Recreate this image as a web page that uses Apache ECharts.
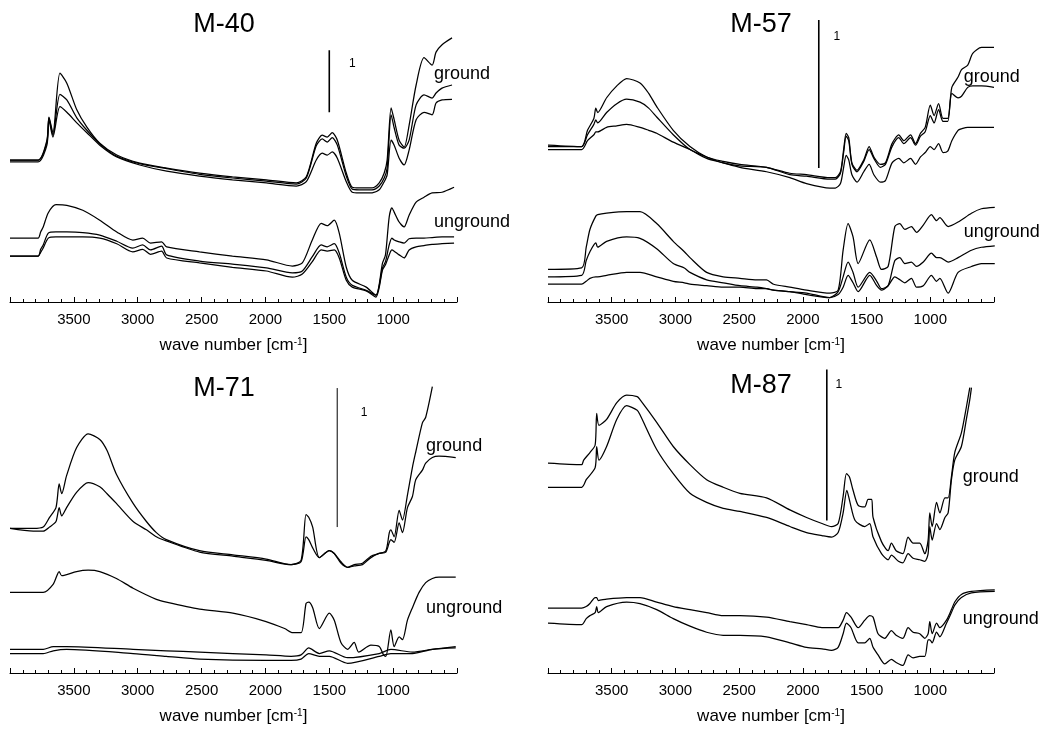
<!DOCTYPE html>
<html>
<head>
<meta charset="utf-8">
<script src="https://cdn.jsdelivr.net/npm/echarts@6/dist/echarts.min.js"></script>
<style>
html,body{margin:0;padding:0;background:#fff;}
#chart{width:1047px;height:729px;}
</style>
</head>
<body>
<div id="chart"></div>
<script>
// ---------- tick labels ----------
const tickValues = [3500, 3000, 2500, 2000, 1500, 1000];
const axisName = 'wave number [cm{sup|-1}]';
const titles = ['M-40', 'M-57', 'M-71', 'M-87'];

// ---------- M-40 ----------
const m40_wnG = [4000,3780,3711,3695,3664,3609,3555,3477,3398,3297,3164,2984,2773,2516,2258,1992,1758,1680,1602,1555,1516,1477,1437,1367,1320,1266,1164,1109,1070,1047,1016,992,953,914,875,820,758,695,664,617,539];
const m40_g1 = [2.29,2.29,2.61,2.98,2.73,3.69,3.53,3.10,2.82,2.56,2.37,2.24,2.16,2.08,2.02,1.97,1.92,2.02,2.56,2.69,2.66,2.73,2.61,2.08,1.85,1.84,1.84,1.92,2.08,2.29,3.13,2.94,2.61,2.50,2.85,3.50,3.94,3.82,4.03,4.15,4.26];
const m40_g2 = [2.29,2.29,2.58,2.97,2.69,3.35,3.26,2.97,2.77,2.55,2.35,2.23,2.15,2.06,2.00,1.95,1.90,2.00,2.52,2.63,2.58,2.65,2.53,2.03,1.82,1.81,1.81,1.87,2.00,2.16,3.02,2.81,2.53,2.48,2.61,3.18,3.34,3.29,3.37,3.45,3.50];
const m40_g3 = [2.26,2.26,2.53,2.94,2.66,3.15,3.06,2.89,2.73,2.53,2.34,2.21,2.11,2.03,1.97,1.92,1.87,1.94,2.29,2.40,2.37,2.42,2.32,1.94,1.77,1.76,1.76,1.81,1.94,2.05,2.61,2.53,2.32,2.21,2.45,2.94,3.06,3.02,3.21,3.26,3.27];
const m40_wnU = [4000,3780,3760,3740,3700,3640,3555,3430,3297,3164,3039,2961,2900,2813,2773,2516,2258,1992,1789,1711,1633,1563,1516,1461,1422,1367,1320,1211,1135,1083,1060,1031,1010,992,953,914,875,820,758,695,617,523];
const m40_u1 = [1.03,1.03,1.13,1.21,1.44,1.57,1.56,1.48,1.32,1.13,1.00,1.03,0.95,0.97,0.89,0.81,0.74,0.68,0.58,0.63,1.00,1.27,1.23,1.32,1.11,0.56,0.35,0.24,0.11,0.63,0.76,1.37,1.52,1.45,1.29,1.21,1.40,1.61,1.69,1.76,1.77,1.85];
const m40_u2 = [0.74,0.74,0.85,0.92,1.11,1.13,1.13,1.12,1.08,0.98,0.87,0.92,0.84,0.90,0.76,0.66,0.61,0.55,0.47,0.50,0.73,0.92,0.89,0.94,0.79,0.40,0.27,0.19,0.11,0.55,0.65,0.92,1.03,1.00,0.97,0.95,1.02,1.03,1.03,1.04,1.05,1.05];
const m40_u3 = [0.74,0.74,0.80,0.87,1.03,1.05,1.05,1.05,1.03,0.94,0.81,0.85,0.77,0.82,0.71,0.63,0.56,0.50,0.40,0.45,0.65,0.84,0.82,0.84,0.71,0.35,0.24,0.18,0.08,0.52,0.60,0.76,0.84,0.82,0.76,0.71,0.84,0.89,0.91,0.93,0.94,0.95];
const m40_bar = [[1500,3.06],[1500,4.06]];
const m40_marks = [[1320,3.85,'1','c'],[680,3.68,'ground','l'],[680,1.29,'unground','l']];

// ---------- M-57 ----------
const m57_wnG = [4000,3736,3690,3640,3625,3610,3540,3460,3383,3278,3210,3147,3017,2886,2755,2625,2494,2285,2102,1971,1788,1745,1705,1680,1660,1640,1615,1575,1522,1480,1443,1391,1352,1300,1247,1208,1155,1116,1077,1040,1000,970,935,900,863,831,782,755,706,667,598,500];
const m57_g1 = [1.06,1.05,1.16,1.24,1.31,1.28,1.38,1.46,1.51,1.48,1.41,1.32,1.16,1.05,0.98,0.95,0.93,0.91,0.87,0.86,0.84,0.84,0.88,1.03,1.14,1.11,0.94,0.89,0.96,1.05,0.98,0.93,0.94,1.07,1.13,1.09,1.13,1.07,1.14,1.18,1.33,1.26,1.34,1.24,1.24,1.45,1.52,1.57,1.60,1.68,1.72,1.72];
const m57_g2 = [1.05,1.05,1.13,1.20,1.23,1.21,1.28,1.34,1.37,1.35,1.31,1.25,1.13,1.03,0.98,0.94,0.92,0.91,0.86,0.85,0.83,0.83,0.87,1.01,1.12,1.09,0.93,0.88,0.95,1.03,0.97,0.91,0.93,1.05,1.11,1.07,1.11,1.06,1.12,1.15,1.26,1.21,1.30,1.22,1.22,1.41,1.38,1.39,1.45,1.46,1.46,1.45];
const m57_g3 = [1.03,1.03,1.09,1.13,1.15,1.15,1.18,1.19,1.20,1.18,1.16,1.14,1.08,1.03,0.97,0.94,0.91,0.88,0.84,0.80,0.77,0.77,0.80,0.91,0.99,0.96,0.86,0.81,0.88,0.93,0.86,0.81,0.82,0.94,0.97,0.94,0.97,0.93,0.98,1.01,1.05,1.03,1.07,1.01,1.02,1.09,1.16,1.17,1.18,1.18,1.18,1.18];
const m57_wnU = [4000,3736,3700,3671,3625,3610,3540,3383,3278,3147,3017,2930,2886,2755,2625,2494,2360,2285,2230,2102,1971,1788,1723,1684,1645,1606,1566,1475,1420,1383,1331,1278,1239,1200,1148,1108,1055,991,951,925,860,782,677,599,494];
const m57_u1 = [0.22,0.23,0.37,0.49,0.58,0.59,0.60,0.61,0.61,0.53,0.41,0.34,0.30,0.20,0.17,0.16,0.15,0.15,0.12,0.10,0.08,0.06,0.08,0.35,0.53,0.44,0.26,0.42,0.30,0.22,0.24,0.51,0.53,0.49,0.51,0.47,0.52,0.59,0.55,0.57,0.51,0.54,0.60,0.63,0.64];
const m57_u2 = [0.17,0.18,0.28,0.34,0.40,0.37,0.41,0.44,0.43,0.36,0.26,0.23,0.20,0.15,0.13,0.11,0.10,0.09,0.08,0.07,0.06,0.03,0.07,0.17,0.27,0.20,0.10,0.20,0.14,0.09,0.11,0.28,0.30,0.26,0.27,0.24,0.27,0.33,0.30,0.30,0.27,0.30,0.35,0.37,0.38];
const m57_u3 = [0.12,0.12,0.14,0.16,0.17,0.17,0.18,0.20,0.20,0.17,0.14,0.13,0.12,0.11,0.10,0.10,0.09,0.09,0.08,0.07,0.05,0.03,0.05,0.10,0.18,0.13,0.07,0.18,0.11,0.08,0.11,0.17,0.15,0.13,0.16,0.10,0.11,0.18,0.14,0.16,0.06,0.20,0.24,0.26,0.26];
const m57_bar = [[1875,0.905],[1875,1.905]];
const m57_marks = [[1733,1.79,'1','c'],[737,1.52,'ground','l'],[737,0.47,'unground','l']];

// ---------- M-71 ----------
const m71_wnG1 = [4000,3818,3740,3690,3640,3615,3595,3557,3479,3388,3297,3240,3167,3036,2932,2854,2776,2516,2255,1995,1799,1721,1682,1661,1630,1578,1500,1461,1409,1357,1305,1240,1174,1109,1057,1030,1018,992,953,927,888,849,823,771,745,693];
const m71_g1 = [1.04,1.04,1.05,1.12,1.19,1.36,1.29,1.42,1.62,1.72,1.68,1.60,1.43,1.22,1.09,1.01,0.96,0.88,0.85,0.82,0.78,0.81,1.14,1.12,1.05,0.83,0.88,0.86,0.80,0.76,0.78,0.79,0.84,0.86,0.88,1.01,1.03,0.98,1.17,1.10,1.28,1.48,1.59,1.80,1.84,2.06];
const m71_wnG2 = [4000,3818,3740,3690,3640,3615,3595,3557,3479,3388,3297,3240,3167,3036,2932,2854,2776,2516,2255,1995,1799,1721,1682,1661,1630,1578,1500,1461,1409,1357,1305,1240,1174,1109,1057,1030,1018,992,953,927,888,849,823,771,745,693,641,510];
const m71_g2 = [1.04,1.02,1.02,1.05,1.09,1.19,1.13,1.19,1.30,1.37,1.34,1.29,1.22,1.09,1.03,0.98,0.95,0.87,0.84,0.81,0.78,0.80,0.98,0.96,0.90,0.83,0.88,0.86,0.79,0.76,0.77,0.78,0.83,0.86,0.87,0.94,0.96,0.94,1.08,1.01,1.19,1.27,1.39,1.46,1.51,1.55,1.56,1.55];
const m71_wnU1 = [4000,3818,3740,3661,3615,3595,3479,3388,3297,3167,3036,2854,2776,2516,2255,1995,1850,1786,1721,1682,1661,1630,1578,1500,1461,1409,1357,1305,1270,1174,1109,1075,1057,1018,992,953,927,888,849,797,745,693,641,510];
const m71_u1 = [0.58,0.58,0.58,0.64,0.73,0.70,0.73,0.74,0.73,0.68,0.61,0.53,0.51,0.46,0.43,0.37,0.32,0.29,0.29,0.50,0.51,0.47,0.32,0.43,0.38,0.22,0.17,0.22,0.15,0.20,0.19,0.13,0.12,0.31,0.19,0.26,0.24,0.38,0.47,0.58,0.65,0.68,0.69,0.69];
const m71_wnU2 = [4000,3818,3740,3661,3557,3036,2776,2516,1995,1799,1721,1661,1578,1500,1357,1109,1018,849,693,510];
const m71_u2 = [0.17,0.17,0.17,0.19,0.19,0.17,0.16,0.15,0.13,0.12,0.13,0.18,0.14,0.16,0.11,0.14,0.17,0.15,0.17,0.19];
const m71_u3 = [0.14,0.14,0.14,0.16,0.17,0.14,0.12,0.10,0.09,0.09,0.10,0.14,0.12,0.12,0.07,0.12,0.14,0.14,0.17,0.18];
const m71_bar = [[1438,1.05],[1438,2.05]];
const m71_marks = [[1227,1.87,'1','c'],[742,1.63,'ground','l'],[742,0.47,'unground','l']];

// ---------- M-87 ----------
const m87_wnG1 = [4000,3736,3720,3671,3630,3618,3600,3540,3460,3383,3300,3278,3147,3017,2886,2755,2625,2494,2285,2102,1971,1850,1775,1723,1684,1658,1635,1606,1566,1514,1488,1460,1449,1383,1331,1305,1268,1215,1174,1135,1083,1043,1017,1004,985,951,925,885,860,834,808,756,717,690];
const m87_g1 = [1.39,1.38,1.41,1.46,1.51,1.72,1.64,1.68,1.79,1.84,1.83,1.81,1.66,1.50,1.38,1.28,1.23,1.19,1.16,1.08,1.03,0.99,0.97,0.99,1.17,1.32,1.30,1.21,1.11,1.10,1.15,1.15,1.03,0.87,0.81,0.86,0.81,0.79,0.90,0.86,0.86,0.79,0.88,1.06,0.97,1.13,1.06,1.16,1.16,1.30,1.46,1.59,1.76,1.89];
const m87_wnG2 = [4000,3736,3700,3630,3618,3600,3540,3460,3383,3300,3278,3147,3017,2886,2755,2625,2494,2285,2102,1971,1850,1775,1723,1684,1655,1630,1590,1514,1475,1449,1383,1331,1305,1250,1215,1174,1135,1083,1043,1017,1004,985,951,925,885,860,834,808,756,717,690,677];
const m87_g2 = [1.23,1.23,1.28,1.36,1.50,1.41,1.50,1.68,1.77,1.74,1.71,1.48,1.32,1.19,1.13,1.09,1.07,1.03,0.97,0.93,0.91,0.90,0.93,1.06,1.21,1.13,1.01,0.97,0.99,0.90,0.79,0.75,0.78,0.74,0.73,0.79,0.76,0.75,0.74,0.79,0.97,0.88,0.99,0.95,1.03,1.06,1.28,1.41,1.50,1.68,1.81,1.89];
const m87_wnU = [4000,3736,3700,3671,3630,3618,3605,3540,3383,3278,3147,3017,2886,2755,2625,2494,2285,2102,1971,1850,1775,1723,1684,1658,1622,1566,1514,1475,1449,1410,1357,1305,1268,1215,1174,1135,1083,1043,1017,1004,985,951,925,873,834,808,756,677,494];
const m87_u1 = [0.43,0.43,0.44,0.46,0.50,0.50,0.48,0.49,0.50,0.50,0.47,0.44,0.42,0.40,0.38,0.38,0.37,0.34,0.32,0.30,0.30,0.30,0.35,0.40,0.37,0.30,0.35,0.38,0.37,0.26,0.23,0.28,0.25,0.23,0.30,0.27,0.26,0.23,0.26,0.34,0.26,0.33,0.30,0.35,0.42,0.47,0.52,0.54,0.55];
const m87_u2 = [0.33,0.32,0.36,0.38,0.40,0.44,0.40,0.44,0.47,0.46,0.42,0.36,0.31,0.27,0.25,0.25,0.24,0.20,0.17,0.16,0.15,0.17,0.26,0.33,0.30,0.20,0.20,0.23,0.17,0.12,0.06,0.09,0.07,0.05,0.12,0.10,0.11,0.11,0.22,0.22,0.20,0.27,0.24,0.33,0.40,0.45,0.50,0.53,0.54];
const m87_bar = [[1812,1.01],[1812,2.01]];
const m87_marks = [[1718,1.91,'1','c'],[745,1.30,'ground','l'],[745,0.36,'unground','l']];

// ---------- layout (pixels) ----------
const FONT = '"Liberation Sans", Arial, Helvetica, sans-serif';
const panels = [
  {left:10,  width:447, bottom:302, pxPerUnit:62,  ymax:4.5, title:[224,25],
   curves:[[m40_wnG,m40_g1],[m40_wnG,m40_g2],[m40_wnG,m40_g3],[m40_wnU,m40_u1],[m40_wnU,m40_u2],[m40_wnU,m40_u3]],
   bar:m40_bar, barW:1.6, marks:m40_marks},
  {left:548, width:446, bottom:302, pxPerUnit:148, ymax:2.0, title:[761,25],
   curves:[[m57_wnG,m57_g1],[m57_wnG,m57_g2],[m57_wnG,m57_g3],[m57_wnU,m57_u1],[m57_wnU,m57_u2],[m57_wnU,m57_u3]],
   bar:m57_bar, barW:1.6, marks:m57_marks},
  {left:10,  width:447, bottom:673, pxPerUnit:139, ymax:2.2, title:[224,389],
   curves:[[m71_wnG1,m71_g1],[m71_wnG2,m71_g2],[m71_wnU1,m71_u1],[m71_wnU2,m71_u2],[m71_wnU2,m71_u3]],
   bar:m71_bar, barW:1, marks:m71_marks},
  {left:548, width:446, bottom:673, pxPerUnit:151, ymax:2.1, title:[761,386],
   curves:[[m87_wnG1,m87_g1],[m87_wnG2,m87_g2],[m87_wnU,m87_u1],[m87_wnU,m87_u2]],
   bar:m87_bar, barW:1.6, marks:m87_marks}
];

const zip = (xs, ys) => xs.map((x, i) => [x, ys[i]]);
const grid = [], xAxis = [], yAxis = [], series = [], graphic = [];

panels.forEach((p, i) => {
  const h = p.ymax * p.pxPerUnit;
  grid.push({left:p.left, width:p.width, top:p.bottom - h, height:h, containLabel:false});
  xAxis.push({
    type:'value', gridIndex:i, min:500, max:4000, interval:500, inverse:true,
    axisLine:{onZero:false, lineStyle:{color:'#000', width:1}},
    axisTick:{inside:true, length:5, lineStyle:{color:'#000'}},
    minorTick:{show:true, splitNumber:5, length:3, lineStyle:{color:'#000'}},
    splitLine:{show:false},
    axisLabel:{fontFamily:FONT, fontSize:15, color:'#000', margin:10,
      formatter: v => tickValues.indexOf(v) >= 0 ? String(v) : ''},
    name:axisName, nameLocation:'middle', nameGap:35,
    nameTextStyle:{fontFamily:FONT, fontSize:17, color:'#000',
      rich:{sup:{fontFamily:FONT, fontSize:10, color:'#000', verticalAlign:'top', padding:[0,0,6,0]}}}
  });
  yAxis.push({type:'value', gridIndex:i, min:0, max:p.ymax, show:false});
  p.curves.forEach(c => {
    series.push({type:'line', xAxisIndex:i, yAxisIndex:i, data:zip(c[0], c[1]),
      showSymbol:false, smooth:0.25, silent:true, clip:false,
      lineStyle:{color:'#000', width:1.25}});
  });
  series.push({type:'line', xAxisIndex:i, yAxisIndex:i, data:p.bar, showSymbol:false,
    silent:true, lineStyle:{color:'#000', width:p.barW}});
  series.push({type:'scatter', xAxisIndex:i, yAxisIndex:i, symbolSize:0, silent:true, clip:false,
    itemStyle:{color:'#000', opacity:1},
    data:p.marks.map(m => ({value:[m[0], m[1]], name:m[2],
      label:{show:true, formatter:m[2], position:m[3]==='c' ? 'inside' : 'right', distance:0,
        fontFamily:FONT, fontSize:m[2]==='1' ? 12 : 18, color:'#000', textBorderWidth:0, opacity:1}}))});
  graphic.push({type:'text', x:p.title[0], y:p.title[1],
    style:{text:titles[i], fontFamily:FONT, fontSize:27, fill:'#000', textAlign:'center', textVerticalAlign:'middle'}});
});

const chart = echarts.init(document.getElementById('chart'), null, {renderer:'canvas'});
chart.setOption({animation:false, backgroundColor:'#fff', grid, xAxis, yAxis, series, graphic});
</script>
</body>
</html>
